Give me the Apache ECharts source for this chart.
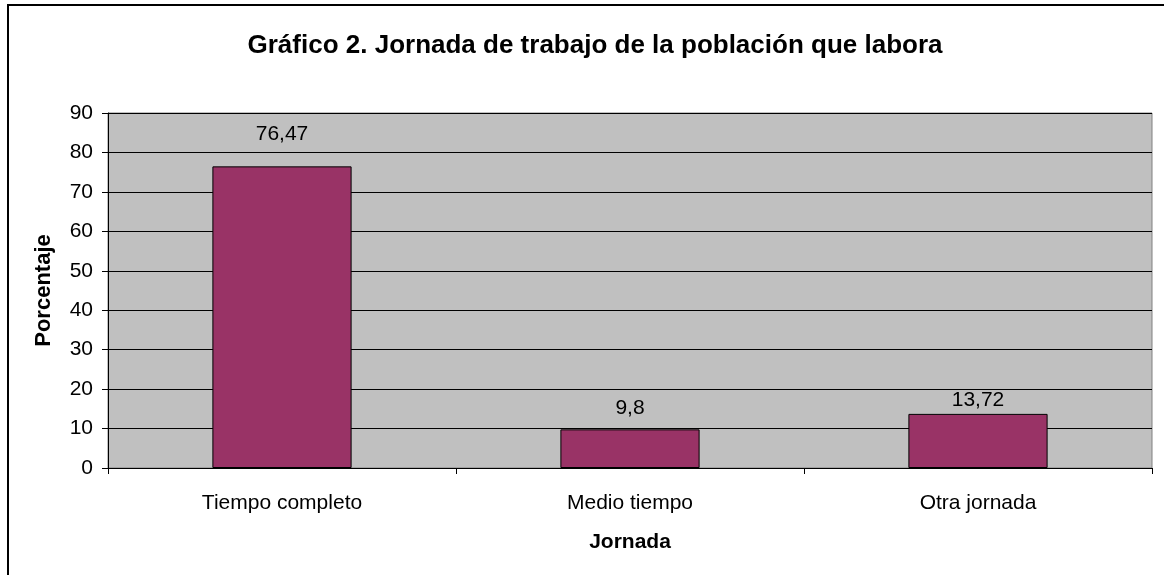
<!DOCTYPE html>
<html>
<head>
<meta charset="utf-8">
<script src="https://cdn.jsdelivr.net/npm/echarts@6/dist/echarts.min.js"></script>
<style>
html,body{margin:0;padding:0;background:#fff;}
#c{width:1164px;height:575px;}
</style>
</head>
<body>
<div id="c"></div>
<script>
const categories = ['Tiempo completo', 'Medio tiempo', 'Otra jornada'];
const values = [76.47, 9.8, 13.72];
const valueLabels = ['76,47', '9,8', '13,72'];
const yTicks = [0, 10, 20, 30, 40, 50, 60, 70, 80, 90];

const labelGaps = [22, 11, 3];
const FONT = '"Liberation Sans", Arial, sans-serif';

const chart = echarts.init(document.getElementById('c'));
chart.setOption({
  animation: false,
  backgroundColor: '#ffffff',
  title: {
    text: 'Gráfico 2. Jornada de trabajo de la población que labora',
    left: 590, top: 28, textAlign: 'center',
    textStyle: { fontFamily: FONT, fontSize: 26, fontWeight: 'bold', color: '#000' }
  },
  graphic: [{
    type: 'rect', shape: { x: 8, y: 5, width: 1300, height: 700 },
    style: { fill: 'none', stroke: '#000', lineWidth: 2 }, z: 100
  }],
  grid: {
    left: 108, top: 113, right: 12, bottom: 107,
    show: true, backgroundColor: '#c0c0c0', borderColor: '#808080', borderWidth: 1
  },
  xAxis: {
    type: 'category', data: categories,
    name: 'Jornada', nameLocation: 'middle', nameGap: 64,
    nameTextStyle: { fontFamily: FONT, fontSize: 21, fontWeight: 'bold', color: '#000' },
    axisLine: { show: true, lineStyle: { color: '#000', width: 1 } },
    axisTick: { show: true, length: 6, lineStyle: { color: '#000' } },
    axisLabel: { fontFamily: FONT, fontSize: 21, color: '#000', margin: 25 },
    splitLine: { show: false }
  },
  yAxis: {
    type: 'value', min: yTicks[0], max: yTicks[yTicks.length - 1], interval: 10,
    name: 'Porcentaje', nameLocation: 'middle', nameGap: 53,
    nameTextStyle: { fontFamily: FONT, fontSize: 22, fontWeight: 'bold', color: '#000' },
    axisLine: { show: true, lineStyle: { color: '#000', width: 1 } },
    axisTick: { show: true, length: 6, lineStyle: { color: '#000' } },
    axisLabel: { fontFamily: FONT, fontSize: 21, color: '#000', margin: 15 },
    splitLine: { show: true, lineStyle: { color: '#000', width: 1 } }
  },
  series: [{
    type: 'bar',
    barCategoryGap: '60%',
    data: values.map((v, i) => ({
      value: v,
      label: { distance: labelGaps[i] }
    })),
    itemStyle: { color: '#993366', borderColor: '#000', borderWidth: 1 },
    label: {
      show: true, position: 'top',
      fontFamily: FONT, fontSize: 21, color: '#000',
      formatter: p => valueLabels[p.dataIndex]
    }
  }]
});
</script>
</body>
</html>
